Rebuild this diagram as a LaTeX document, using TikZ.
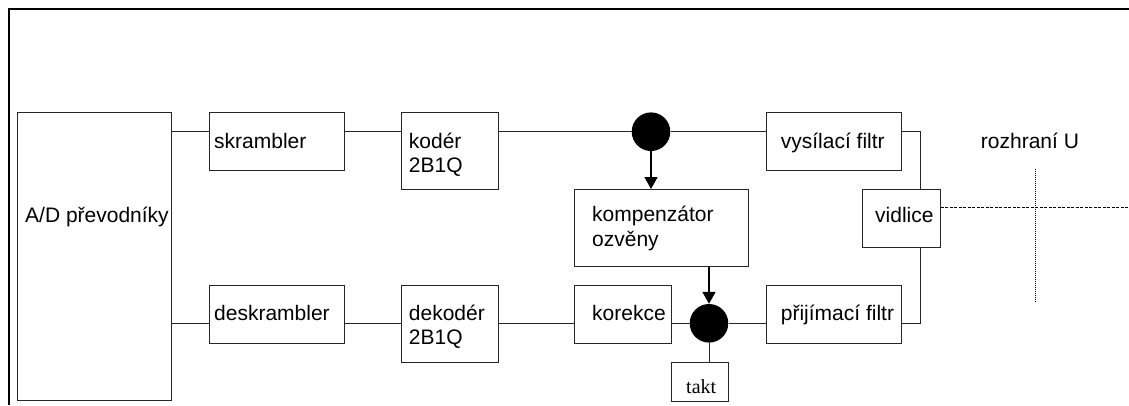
\documentclass[tikz,border=0pt]{standalone}
\usepackage{fontspec}
\setmainfont{Liberation Sans}
\newfontfamily\seriffont{Liberation Serif}
\usetikzlibrary{arrows.meta}

\begin{document}
\begin{tikzpicture}[x=1pt,y=-1pt,
  blk/.style={draw=black!85, line width=1pt, anchor=north west, inner sep=0pt},
  lbl/.style={anchor=base west, inner sep=0pt, font=\fontsize{21}{24.4}\selectfont, align=left},
  wire/.style={draw=black!85, line width=1pt},
  flow/.style={draw=black, line width=1.7pt, -{Triangle[length=12pt,width=13pt]}},
  dot/.style={circle, fill=black, minimum size=38.6pt, inner sep=0pt}]
\useasboundingbox (0,0) rectangle (1129,405);

% outer frame (top and left edges only)
\draw[line width=2.2pt] (9,405) -- (9,9) -- (1129,9);

% blocks
\node[blk, minimum width=154pt,   minimum height=287.7pt] (ad)   at (17.3,112.3) {};
\node[blk, minimum width=135pt,   minimum height=57.7pt]  (skr)  at (209.3,112.3) {};
\node[blk, minimum width=135pt,   minimum height=57.7pt]  (desk) at (209.3,285) {};
\node[blk, minimum width=96.7pt,  minimum height=76.7pt]  (kod)  at (401.3,112.3) {};
\node[blk, minimum width=96.7pt,  minimum height=77pt]    (dek)  at (401.3,285) {};
\node[blk, minimum width=173.4pt, minimum height=76.7pt]  (komp) at (574.3,189) {};
\node[blk, minimum width=96.4pt,  minimum height=57.7pt]  (kor)  at (574.3,285) {};
\node[blk, minimum width=135pt,   minimum height=57.7pt]  (vys)  at (766.3,112.3) {};
\node[blk, minimum width=135pt,   minimum height=57.7pt]  (pri)  at (766.3,285) {};
\node[blk, minimum width=77.4pt,  minimum height=57.7pt]  (vid)  at (862.3,189) {};
\node[blk, minimum width=57.6pt,  minimum height=38.7pt]  (takt) at (670.7,362) {};

% summing points
\node[dot] (d1) at (651,131.7) {};
\node[dot] (d2) at (709,323.3) {};

% labels (two-line labels are placed by the baseline of their last line)
\node[lbl] (tad)   at (25,222.7)    {A/D převodníky};
\node[lbl] (tskr)  at (214,148.3)   {skrambler};
\node[lbl] (tdesk) at (214,320)     {deskrambler};
\node[lbl] (tkod)  at (408.7,172.7) {kodér\\2B1Q};
\node[lbl] (tdek)  at (408.7,344.4) {dekodér\\2B1Q};
\node[lbl] (tkomp) at (592,246.1)   {kompenzátor\\ozvěny};
\node[lbl] (tkor)  at (592,320)     {korekce};
\node[lbl] (tvys)  at (780.7,148.3) {vysílací filtr};
\node[lbl] (tvid)  at (875,222.3)   {vidlice};
\node[lbl] (tpri)  at (780.7,320)   {přijímací filtr};
\node[lbl] (troz)  at (980.7,148.3) {rozhraní U};
\node[anchor=base west, inner sep=0pt, font=\seriffont\fontsize{20}{24}\selectfont] (ttakt) at (686,393.3) {takt};

% signal levels and helper points
\coordinate (top) at (0,131.7);
\coordinate (bot) at (0,323.3);
\coordinate (jx)  at (920,0);
\coordinate (hy)  at (0,207.7);
\coordinate (uend) at (1129,207.7);
\coordinate (ut) at (1035.3,169.3);
\coordinate (ub) at (1035.3,303.3);

% transmit path
\draw[wire] (ad.east |- top) -- (skr.west |- top);
\draw[wire] (skr.east |- top) -- (kod.west |- top);
\draw[wire] (kod.east |- top) -- (d1);
\draw[wire] (d1) -- (vys.west |- top);
\draw[wire] (vys.east |- top) -| (jx |- vid.north);

% receive path
\draw[wire] (ad.east |- bot) -- (desk.west |- bot);
\draw[wire] (desk.east |- bot) -- (dek.west |- bot);
\draw[wire] (dek.east |- bot) -- (kor.west |- bot);
\draw[wire] (kor.east |- bot) -- (d2);
\draw[wire] (d2) -- (pri.west |- bot);
\draw[wire] (pri.east |- bot) -| (jx |- vid.south);
\draw[wire] (d2.south) -- (d2.south |- takt.north);

% echo canceller
\draw[flow] (d1.south) -- (d1.south |- komp.north);
\draw[flow] (d2.north |- komp.south) -- (d2.north);

% U interface
\draw[black, line width=0.9pt, dash pattern=on 3pt off 1.5pt] (vid.east |- hy) -- (uend);
\draw[black, line width=0.9pt, dash pattern=on 1pt off 1pt] (ut) -- (ub);
\end{tikzpicture}
\end{document}
